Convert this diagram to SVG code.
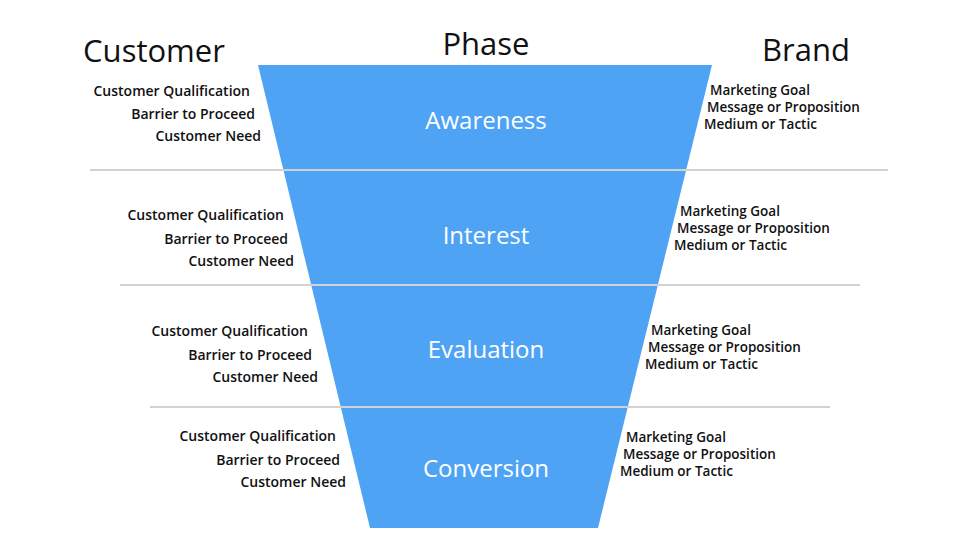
<svg xmlns="http://www.w3.org/2000/svg" width="975" height="550" viewBox="0 0 975 550">
<style>
.h{font-family:"Open Sans","Liberation Sans",sans-serif;font-size:31px;font-weight:500;fill:#111;text-anchor:middle}
.p{font-family:"Open Sans","Liberation Sans",sans-serif;font-size:24px;font-weight:500;fill:#fff;text-anchor:middle}
.l{font-family:"Open Sans","Liberation Sans",sans-serif;font-size:14px;font-weight:600;fill:#111;text-anchor:end}
.r{font-family:"Open Sans","Liberation Sans",sans-serif;font-size:13.5px;font-weight:600;fill:#111}
.sep{stroke:#d2d2d2;stroke-width:2}
</style>
<rect width="975" height="550" fill="#fff"/>
<g id="funnel"><polygon points="258,65 712,65 598,528 370,528" fill="#4fa3f5"/></g>
<g id="connectors">
<line class="sep" x1="90" y1="170" x2="888" y2="170"/>
<line class="sep" x1="120" y1="285" x2="860" y2="285"/>
<line class="sep" x1="150" y1="407" x2="830" y2="407"/>
</g>
<g id="headers">
<text class="h" x="154" y="62">Customer</text>
<text class="h" x="486" y="55">Phase</text>
<text class="h" x="806" y="61">Brand</text>
</g>
<g id="awareness">
<text class="p" x="486" y="129">Awareness</text>
<text class="l" x="250" y="96">Customer Qualification</text>
<text class="l" x="255" y="119">Barrier to Proceed</text>
<text class="l" x="261" y="141">Customer Need</text>
<text class="r" x="710" y="95">Marketing Goal</text>
<text class="r" x="707" y="112">Message or Proposition</text>
<text class="r" x="704" y="129">Medium or Tactic</text>
</g>
<g id="interest">
<text class="p" x="486" y="244">Interest</text>
<text class="l" x="284" y="220">Customer Qualification</text>
<text class="l" x="288" y="244">Barrier to Proceed</text>
<text class="l" x="294" y="266">Customer Need</text>
<text class="r" x="680" y="216">Marketing Goal</text>
<text class="r" x="677" y="233">Message or Proposition</text>
<text class="r" x="674" y="250">Medium or Tactic</text>
</g>
<g id="evaluation">
<text class="p" x="486" y="358">Evaluation</text>
<text class="l" x="308" y="336">Customer Qualification</text>
<text class="l" x="312" y="360">Barrier to Proceed</text>
<text class="l" x="318" y="382">Customer Need</text>
<text class="r" x="651" y="335">Marketing Goal</text>
<text class="r" x="648" y="352">Message or Proposition</text>
<text class="r" x="645" y="369">Medium or Tactic</text>
</g>
<g id="conversion">
<text class="p" x="486" y="477">Conversion</text>
<text class="l" x="336" y="441">Customer Qualification</text>
<text class="l" x="340" y="465">Barrier to Proceed</text>
<text class="l" x="346" y="487">Customer Need</text>
<text class="r" x="626" y="442">Marketing Goal</text>
<text class="r" x="623" y="459">Message or Proposition</text>
<text class="r" x="620" y="476">Medium or Tactic</text>
</g>
</svg>
